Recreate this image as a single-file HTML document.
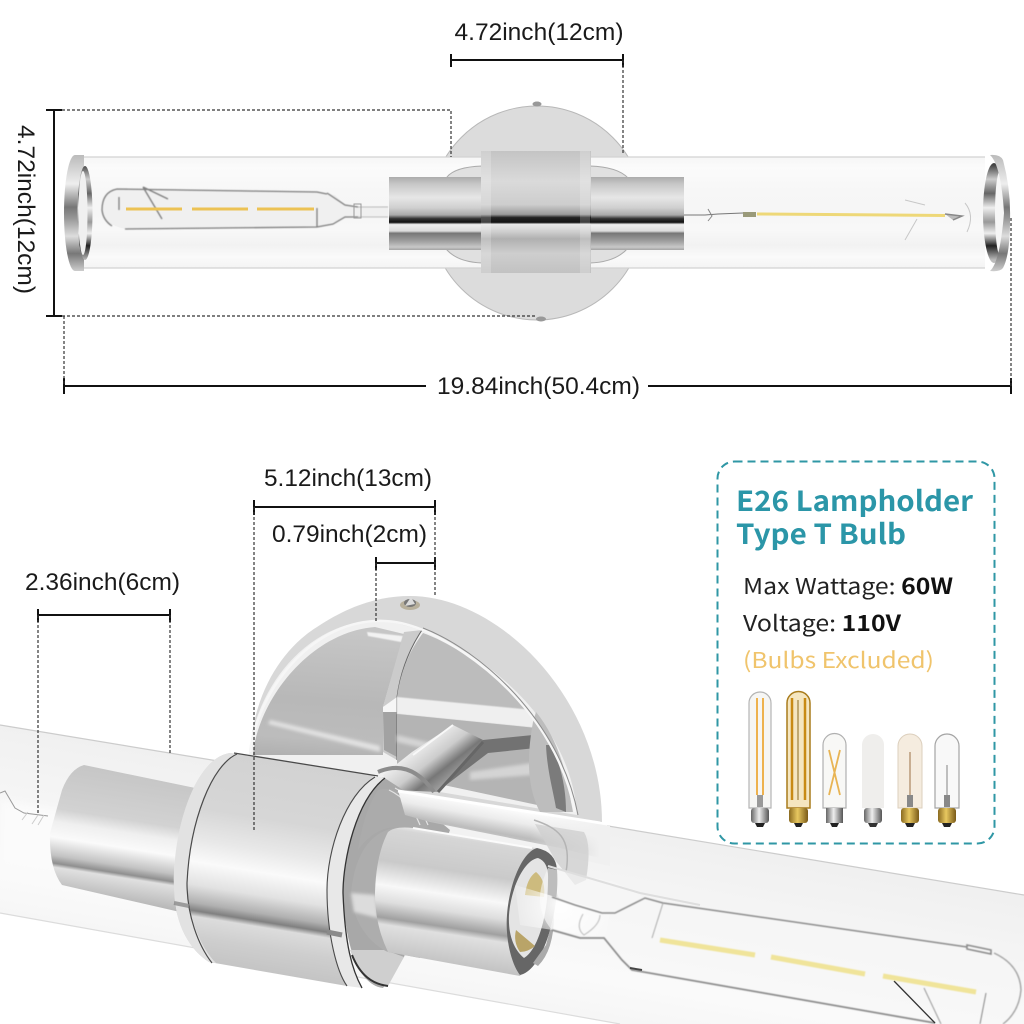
<!DOCTYPE html>
<html><head><meta charset="utf-8"><style>
html,body{margin:0;padding:0;background:#fff;width:1024px;height:1024px;overflow:hidden}
svg{display:block}
.d{font-family:"Liberation Sans",sans-serif;font-size:24px;fill:#1a1a1a}
.c{font-family:"Noto Sans CJK SC","Liberation Sans",sans-serif}
</style></head><body>
<svg width="1024" height="1024" viewBox="0 0 1024 1024" xmlns="http://www.w3.org/2000/svg">
<defs>
<filter id="b1"><feGaussianBlur stdDeviation="0.6"/></filter>
<filter id="b2"><feGaussianBlur stdDeviation="1.5"/></filter>
<filter id="b4"><feGaussianBlur stdDeviation="4"/></filter>
<linearGradient id="fade" gradientUnits="userSpaceOnUse" x1="530" y1="0" x2="600" y2="0"><stop offset="0" stop-color="#f0f0f0" stop-opacity="0"/><stop offset="1" stop-color="#f0f0f0" stop-opacity="1"/></linearGradient>
<linearGradient id="tube" gradientUnits="userSpaceOnUse" x1="0" y1="157" x2="0" y2="268">
<stop offset="0" stop-color="#f6f6f6"/><stop offset=".1" stop-color="#fbfbfb"/><stop offset=".3" stop-color="#f7f7f7"/><stop offset=".5" stop-color="#f6f6f6"/><stop offset=".65" stop-color="#f8f8f8"/><stop offset=".8" stop-color="#f2f2f2"/><stop offset=".9" stop-color="#fafafa"/><stop offset="1" stop-color="#f4f4f4"/>
</linearGradient>
<linearGradient id="col" gradientUnits="userSpaceOnUse" x1="0" y1="151" x2="0" y2="273">
<stop offset="0" stop-color="#c4c4c4"/><stop offset=".25" stop-color="#dadada"/><stop offset=".44" stop-color="#cdcdcd"/><stop offset=".52" stop-color="#9a9a9a"/><stop offset=".545" stop-color="#222"/><stop offset=".585" stop-color="#111"/><stop offset=".6" stop-color="#e6e6e6"/><stop offset=".66" stop-color="#cfcfcf"/><stop offset=".72" stop-color="#b0b0b0"/><stop offset=".84" stop-color="#cecece"/><stop offset="1" stop-color="#c2c2c2"/>
</linearGradient>
<linearGradient id="side" gradientUnits="userSpaceOnUse" x1="0" y1="177" x2="0" y2="250">
<stop offset="0" stop-color="#ababab"/><stop offset=".1" stop-color="#c8c8c8"/><stop offset=".28" stop-color="#e6e6e6"/><stop offset=".42" stop-color="#d0d0d0"/><stop offset=".52" stop-color="#aaa"/><stop offset=".57" stop-color="#333"/><stop offset=".62" stop-color="#111"/><stop offset=".65" stop-color="#f0f0f0"/><stop offset=".74" stop-color="#dcdcdc"/><stop offset=".77" stop-color="#777"/><stop offset=".88" stop-color="#a0a0a0"/><stop offset=".96" stop-color="#c8c8c8"/><stop offset="1" stop-color="#a4a4a4"/>
</linearGradient>
<linearGradient id="ring" gradientUnits="userSpaceOnUse" x1="0" y1="155" x2="0" y2="271">
<stop offset="0" stop-color="#bbb"/><stop offset=".25" stop-color="#eee"/><stop offset=".45" stop-color="#777"/><stop offset=".55" stop-color="#999"/><stop offset=".7" stop-color="#ddd"/><stop offset=".85" stop-color="#777"/><stop offset="1" stop-color="#ccc"/>
</linearGradient>
<linearGradient id="ringin" gradientUnits="userSpaceOnUse" x1="0" y1="165" x2="0" y2="260">
<stop offset="0" stop-color="#444"/><stop offset=".15" stop-color="#ccc"/><stop offset=".3" stop-color="#666"/><stop offset=".45" stop-color="#eee"/><stop offset=".6" stop-color="#999"/><stop offset=".72" stop-color="#eee"/><stop offset=".85" stop-color="#222"/><stop offset="1" stop-color="#bbb"/>
</linearGradient>
<linearGradient id="btube" gradientUnits="userSpaceOnUse" x1="530" y1="800" x2="490" y2="1030">
<stop offset="0" stop-color="#efefef"/><stop offset=".4" stop-color="#f6f6f6"/><stop offset=".7" stop-color="#fafafa"/><stop offset="1" stop-color="#f3f3f3"/>
</linearGradient>
<linearGradient id="bcol" gradientUnits="userSpaceOnUse" x1="298" y1="760" x2="262" y2="982">
<stop offset="0" stop-color="#d2d2d2"/><stop offset=".28" stop-color="#d6d6d6"/><stop offset=".42" stop-color="#e8e8e8"/><stop offset=".52" stop-color="#fafafa"/><stop offset=".62" stop-color="#e2e2e2"/><stop offset=".7" stop-color="#b0b0b0"/><stop offset=".735" stop-color="#808080"/><stop offset=".76" stop-color="#dcdcdc"/><stop offset=".85" stop-color="#cecece"/><stop offset="1" stop-color="#c0c0c0"/>
</linearGradient>
<linearGradient id="bsmall" gradientUnits="userSpaceOnUse" x1="125" y1="772" x2="105" y2="900">
<stop offset="0" stop-color="#c6c6c6"/><stop offset=".36" stop-color="#d2d2d2"/><stop offset=".46" stop-color="#efefef"/><stop offset=".58" stop-color="#fafafa"/><stop offset=".72" stop-color="#c2c2c2"/><stop offset=".78" stop-color="#8f8f8f"/><stop offset=".81" stop-color="#e0e0e0"/><stop offset="1" stop-color="#b6b6b6"/>
</linearGradient>
<linearGradient id="bfront" gradientUnits="userSpaceOnUse" x1="465" y1="832" x2="445" y2="965">
<stop offset="0" stop-color="#f6f6f6"/><stop offset=".06" stop-color="#d6d6d6"/><stop offset=".3" stop-color="#cacaca"/><stop offset=".48" stop-color="#f8f8f8"/><stop offset=".6" stop-color="#dedede"/><stop offset=".72" stop-color="#a0a0a0"/><stop offset=".77" stop-color="#e0e0e0"/><stop offset="1" stop-color="#c2c2c2"/>
</linearGradient>
<linearGradient id="domeL" gradientUnits="userSpaceOnUse" x1="320" y1="630" x2="310" y2="770">
<stop offset="0" stop-color="#c6c6c6"/><stop offset=".5" stop-color="#b8b8b8"/><stop offset=".78" stop-color="#bcbcbc"/><stop offset="1" stop-color="#a8a8a8"/>
</linearGradient>
<linearGradient id="stem" gradientUnits="userSpaceOnUse" x1="425" y1="740" x2="460" y2="785">
<stop offset="0" stop-color="#eee"/><stop offset=".35" stop-color="#ccc"/><stop offset=".6" stop-color="#777"/><stop offset="1" stop-color="#bbb"/>
</linearGradient>
<linearGradient id="rear" gradientUnits="userSpaceOnUse" x1="500" y1="805" x2="490" y2="860">
<stop offset="0" stop-color="#fff"/><stop offset=".25" stop-color="#ececec"/><stop offset=".5" stop-color="#bcbcbc"/><stop offset=".75" stop-color="#d8d8d8"/><stop offset="1" stop-color="#cacaca"/>
</linearGradient>
<linearGradient id="brass" x1="0" y1="0" x2="1" y2="0"><stop offset="0" stop-color="#8a6a20"/><stop offset=".45" stop-color="#e8c860"/><stop offset="1" stop-color="#7a5a18"/></linearGradient>
<linearGradient id="silver" x1="0" y1="0" x2="1" y2="0"><stop offset="0" stop-color="#666"/><stop offset=".45" stop-color="#eee"/><stop offset="1" stop-color="#555"/></linearGradient>
<radialGradient id="neckglow" gradientUnits="userSpaceOnUse" cx="560" cy="905" r="60"><stop offset="0" stop-color="#fff" stop-opacity=".95"/><stop offset="1" stop-color="#fff" stop-opacity="0"/></radialGradient>
</defs>

<!-- TOP LAMP -->
<circle cx="537" cy="213" r="107" fill="#dcdcdc" stroke="#b8b8b8" stroke-width="1"/>
<ellipse cx="537" cy="104" rx="4.5" ry="2.5" fill="#999"/>
<ellipse cx="541" cy="319" rx="5" ry="2.5" fill="#999"/>
<rect x="80" y="157" width="905" height="111" fill="url(#tube)"/>
<path d="M80,157H985M80,268H985" stroke="#d2d2d2" stroke-width="1.2"/>
<path d="M447,177 Q455,167 482,166 V263 Q458,262 447,250Z" stroke="#aaa" stroke-width="1" fill="#e0e0e0"/>
<path d="M590,166 Q618,167 628,178 V248 Q616,262 590,263Z" stroke="#aaa" stroke-width="1" fill="#e0e0e0"/>
<rect x="389" y="177" width="295" height="73" fill="url(#side)"/>
<rect x="481" y="151" width="110" height="122" fill="url(#col)"/>
<rect x="481" y="151" width="10" height="122" fill="#fff" opacity=".2"/>
<rect x="580" y="151" width="10" height="122" fill="#fff" opacity=".2"/>
<!-- left ring -->
<ellipse cx="75" cy="213" rx="11" ry="58" fill="url(#ring)"/>
<rect x="75" y="155" width="9" height="116" fill="url(#ring)"/>
<ellipse cx="85" cy="213" rx="7.500" ry="47" fill="url(#ringin)"/>
<ellipse cx="83" cy="213" rx="4.500" ry="42" fill="#f0f0f0"/>
<!-- right ring -->
<ellipse cx="994" cy="213" rx="11" ry="50" fill="url(#ringin)"/>
<ellipse cx="1000" cy="213" rx="5" ry="42" fill="#f6f6f6"/>
<path d="M990,155 Q1000,154 1003,160 Q1011,190 1010,220 Q1010,255 1003,268 Q1000,272 990,271 Q1000,262 1004,213 Q1001,165 990,155Z" fill="url(#ring)"/>
<!-- left bulb -->
<path d="M335,195 L317,192 L117,189 Q102,192 102,210 Q103,224 125,229 L317,227 L340,220 L350,217 L388,217 V206 L358,207 L345,205 Z" fill="#f0f0f0"/>
<g fill="none" stroke="#7e7e7e" stroke-width="1.3" filter="url(#b1)">
<path d="M327,194 L317,192 L117,189 Q102,192 102,210 Q103,220 112,226"/>
<path d="M125,229 L317,227 L333,224 L345,217 L358,217"/>
<path d="M327,193 L345,205 L358,207"/>
<path d="M317,208 V227 M119,197 V210 M143,187 L162,219 M143,187 L168,199"/>
<path d="M358,207 H388 M358,217 H388" stroke-width=".7" stroke="#aaa"/>
</g>
<path d="M354,204 h7 v14 h-7z" fill="none" stroke="#999" stroke-width="1"/>
<path d="M126,209H182M192,209H248M257,209H314" stroke="#ecc254" stroke-width="3"/>
<!-- right bulb -->
<path d="M684,215H705L718,214L743,213" stroke="#777" stroke-width="1" fill="none"/>
<path d="M708,209L712,216L708,221" stroke="#888" stroke-width="1" fill="none"/>
<rect x="743" y="212" width="13" height="5" fill="#9a9a7a"/>
<path d="M757,214L945,215.500" stroke="#eed878" stroke-width="3"/>
<path d="M945,214L962,216L953,220" stroke="#888" stroke-width="1.500" fill="#bbb"/>
<path d="M965,203 Q975,215 967,232 M905,200 L925,205 M905,240 L917,219" stroke="#c8c8c8" stroke-width="1" fill="none"/>

<!-- DIMENSIONS TOP -->
<g stroke="#111" stroke-width="2" fill="none">
<path d="M451,60H623M451,54V67M623,54V67"/>
<path d="M54,110V316M46,110H62M46,316H62"/>
<path d="M64,386H426M648,386H1011M64,378V394M1011,378V394"/>
<path d="M38,615H170M38,609V622M170,609V622"/>
<path d="M254,507H435M254,500V515M435,500V515"/>
<path d="M376,563H435M376,557V570M435,557V570"/>
</g>
<g stroke="#333" stroke-width="1.2" stroke-dasharray="3 2" fill="none">
<path d="M62,110H451V157M623,60V155M62,316H535M64,316V386M1011,218V386"/>
</g>
<text class="d" x="454.500" y="40" textLength="169" lengthAdjust="spacingAndGlyphs">4.72inch(12cm)</text>
<text class="d" x="437" y="394" textLength="203" lengthAdjust="spacingAndGlyphs">19.84inch(50.4cm)</text>
<text class="d" transform="translate(18,125) rotate(90)" textLength="169" lengthAdjust="spacingAndGlyphs">4.72inch(12cm)</text>

<!-- BOTTOM LAMP plate -->
<path d="M317,627 C350,605 380,596 410,596 C500,596 602,700 602,822 L250,770 C248,700 280,650 317,627Z" fill="#d8d8d8"/>
<path d="M249,760 C250,700 300,622 375,621 C440,621 570,700 577,815 Z" fill="#f0f0f0"/>
<!-- dome left -->
<path d="M253,755 C258,700 310,632 375,627 L404,634 L383,707 L383,755Z" fill="url(#domeL)"/>
<path d="M367,632 L403,636 L401,642 L368,636Z" fill="#f2f2f2" filter="url(#b1)"/>
<path d="M268,724 L380,752 L380,746 L270,720Z" fill="#e2e2e2" filter="url(#b2)"/>
<!-- seam band -->
<path d="M404,632 L422,630 Q402,660 397,697 V760 L383,752 V707Z" fill="#cbcbcb"/>
<path d="M383,707 L397,697 V713 L383,712Z" fill="#f6f6f6"/>
<path d="M383,712 H397 V757 L384,750Z" fill="#a2a2a2"/>
<path d="M422,630 Q402,660 397,697 V760" stroke="#666" fill="none" stroke-width="1"/>
<!-- dome right -->
<path d="M423,633 C470,650 555,710 573,812 L397,775 V697 Q402,660 423,633Z" fill="#bcbcbc"/>
<path d="M397,697 L533,710 L536,728 L397,714Z" fill="#efefef" filter="url(#b1)"/>
<path d="M397,714 L536,728 C545,745 560,780 570,812 L397,775Z" fill="#b4b4b4"/>
<path d="M397,735 L440,745 L440,752 L397,742Z" fill="#d4d4d4" filter="url(#b2)"/>
<path d="M483,740 L533,735 L536,748 L488,753 L437,792 L428,770Z" fill="#727272"/>
<path d="M470,772 L532,763 V775 L470,780Z" fill="#d4d4d4" filter="url(#b2)"/>
<path d="M533,722 C526,760 528,790 540,812 L572,812 C568,770 555,735 536,712Z" fill="#bdbdbd"/>
<path d="M552,745 C562,770 566,790 566,812 L556,808 C553,790 547,770 546,745Z" fill="#666" opacity=".75"/>
<path d="M250,752 C258,690 310,624 375,621 C395,620 410,625 423,630 C470,650 555,710 575,812" stroke="#f6f6f6" stroke-width="2.5" fill="none"/>
<path d="M423,628 C480,650 560,720 578,815" stroke="#8c8c8c" stroke-width="1" fill="none"/>
<!-- screw -->
<ellipse cx="410" cy="605" rx="10" ry="5" fill="#b8b09c"/><ellipse cx="410" cy="603" rx="6" ry="4" fill="#777"/><path d="M405,606L411,597L415,604" fill="#dcdcdc"/>
<!-- stem -->
<path d="M453,725 L483,740 L437,792 L395,790 L383,775 L412,752Z" fill="url(#stem)"/>
<path d="M453,725 L413,755" stroke="#f8f8f8" stroke-width="2"/>
<path d="M483,742 L438,792" stroke="#666" stroke-width="3"/>
<path d="M378,772 Q410,758 434,792" stroke="#8c8c8c" stroke-width="4" fill="none"/>

<!-- glass tube -->
<path d="M0,725 L1024,895 V1024 H620 L0,913Z" fill="url(#btube)"/>
<path d="M0,725 L230,763 M385,789 L1024,895" stroke="#cccccc" stroke-width="1.2"/>
<path d="M0,913 L620,1024" stroke="#dcdcdc" stroke-width="1.2"/>
<path d="M0,800 L150,826 L130,885 L0,865Z" fill="#fbfbfb" filter="url(#b4)"/>

<!-- left small cylinder -->
<path d="M84,765 Q70,769 62,790 L50,833 Q49,868 62,885 L180,912 L205,790Z" fill="url(#bsmall)"/>

<!-- recess inside opening (drawn before collar) -->
<path d="M383,777 C355,800 342,860 343,893 C345,945 358,985 383,988 L404,957 L450,830 L400,788Z" fill="#a8a8a8"/>
<path d="M378,790 C395,785 410,795 428,828 L395,828 C380,826 365,840 358,850 C362,825 368,805 378,790Z" fill="#ababab"/>
<path d="M389,790 Q410,800 420,825 M395,788 Q418,800 428,825" stroke="#e4e4e4" stroke-width="1.200" fill="none"/>
<path d="M350,950 C358,970 372,985 388,986 L404,957 L385,950Z" fill="#cfcfcf"/>
<path d="M352,955 C360,975 372,984 388,986" stroke="#333" stroke-width="2" fill="none"/>
<!-- rear tube -->
<path d="M398,790 L607,824 V860 L560,848 L430,822 L405,815 Z" fill="url(#rear)"/>
<path d="M398,791 L600,823" stroke="#fff" stroke-width="3"/>
<path d="M525,812 L610,826 V866 L525,848Z" fill="url(#fade)"/>
<!-- plate ghost behind glass on right -->
<path d="M535,824 L584,832 Q592,845 586,880 L575,885 L555,860 Z" fill="#cfcfcf" opacity=".8"/>
<path d="M534,820 C558,828 572,838 566,872" stroke="#b4b4b4" stroke-width="1.500" fill="none"/>

<!-- collar body -->
<path d="M230,753 C195,758 172,830 174,890 C175,925 190,950 209,962 L347,986 C336,970 327,935 327,890 C327,850 345,795 375,776Z" fill="url(#bcol)"/>
<path d="M230,753 C195,758 172,830 174,890 C175,925 190,950 209,962 L216,963 C198,945 187,910 187,883 C190,820 210,765 237,754Z" fill="#e2e2e2"/>
<path d="M237,754 C212,765 190,820 187,883 C187,915 198,945 212,963" stroke="#4a4a4a" stroke-width="1.200" fill="none"/>
<path d="M174,903 L189,906" stroke="#8a8a8a" stroke-width="4" opacity=".8"/>
<path d="M234,753 L378,776" stroke="#4a4a4a" stroke-width="1.300"/>
<!-- right lip -->
<path d="M375,776 L385,778 C356,800 343,860 343,893 C345,945 352,970 362,988 L347,986 C336,970 327,935 327,890 C327,850 345,795 375,776Z" fill="#e8e8e8"/>
<path d="M375,777 C345,795 327,850 327,890 C327,935 337,972 347,986" stroke="#4a4a4a" stroke-width="1.100" fill="none"/>
<path d="M385,778 C356,800 343,860 343,893 C345,945 352,970 362,988" stroke="#333" stroke-width="1.300" fill="none"/>
<path d="M327,932 L342,935" stroke="#8a8a8a" stroke-width="5"/>
<!-- stepped shoulder of front cylinder -->
<path d="M351,893 C355,850 375,822 413,828 L420,958 L388,952 C372,945 353,925 351,893Z" fill="#adadad"/>
<path d="M351,893 L376,895 L378,918 L354,912Z" fill="#dcdcdc" filter="url(#b2)"/>
<!-- front cylinder -->
<path d="M388,832 Q395,826 413,828 L537,848 L560,900 L520,976 L388,952 Q375,925 375,893 Q376,855 388,832Z" fill="url(#bfront)"/>
<path d="M413,828 L532,848" stroke="#fbfbfb" stroke-width="2"/>
<!-- socket end -->
<path d="M537,848 Q556,852 557,870 C560,905 545,970 520,975 C512,965 505,940 507,915 C509,885 522,852 537,848Z" fill="#666"/>
<path d="M538,858 Q549,862 548,880 C548,915 538,950 524,958 C514,950 508,935 509,915 C511,888 524,860 538,858Z" fill="#e4e4e4"/>
<path d="M536,872 Q546,880 544,897 L525,895 Q527,878 536,872Z" fill="#cdbb7e"/>
<path d="M516,930 L535,946 Q528,952 520,952 Q513,942 516,930Z" fill="#b9a468"/>
<path d="M533,963 L546,945 L554,915 Q554,950 538,966Z" fill="#aaa"/>
<!-- glass bulb -->
<path d="M548,868 L615,882 L645,898 L663,903 L991,950 Q1026,975 1021,990 Q1015,1015 1000,1024 H935 L630,970 L622,960 L604,938 L552,930 Q530,905 548,868Z" fill="#f6f6f6" opacity=".6"/>
<path d="M515,885 L610,913 L605,938 L520,925Z" fill="url(#neckglow)"/>
<path d="M548,866 L640,893 L700,905" stroke="#dedede" stroke-width="2" fill="none"/>
<g fill="none" stroke="#8c8c8c" stroke-width="1.600" filter="url(#b1)">
<path d="M552,897 L575,905 L602,913 L615,913 L645,898 L663,903 L967,947" stroke-width="1.500"/>
<path d="M967,945 L991,950 L991,954 L967,949Z"/>
<path d="M994,953 Q1020,965 1021,990 Q1019,1012 1003,1024" stroke-width="1.400" stroke="#a5a5a5"/>
<path d="M552,930 L580,938 L604,938 L622,960 L632,970 L935,1023" stroke-width="1.700"/>
<path d="M663,903 L652,938" stroke-width="1" stroke="#aaa"/>
<path d="M583,914 Q575,928 584,935 Q600,925 600,915" stroke-width="1" stroke="#bbb"/>
<path d="M924,988 L941,1024" stroke="#999" stroke-width="1"/>
<path d="M986,993 L980,1024" stroke="#888" stroke-width="1"/>
</g>
<path d="M630,968L642,970" stroke="#444" stroke-width="2"/>
<path d="M894,981 L935,1023" stroke="#333" stroke-width="1.300"/>
<path d="M660,940 L755,955 M771,957 L865,974 M883,976 L976,992" stroke="#f0e49a" stroke-width="5" filter="url(#b1)"/>
<!-- left bulb remnant -->
<path d="M0,793 L5,791 L15,808 L24,813 L48,816" stroke="#999" stroke-width="1" fill="none"/>
<path d="M22,820 L28,812 M32,824 L38,815 M38,825 L44,815" stroke="#ccc" stroke-width="1"/>

<!-- DIM BOTTOM dashed -->
<g stroke="#333" stroke-width="1.200" stroke-dasharray="3 2" fill="none">
<path d="M38,615V815M170,615V753M254,507V830M435,507V597M376,563V623"/>
</g>
<text class="d" x="264" y="486" textLength="168" lengthAdjust="spacingAndGlyphs">5.12inch(13cm)</text>
<text class="d" x="272" y="542" textLength="155" lengthAdjust="spacingAndGlyphs">0.79inch(2cm)</text>
<text class="d" x="25" y="590" textLength="155" lengthAdjust="spacingAndGlyphs">2.36inch(6cm)</text>

<!-- PANEL -->
<rect x="717.500" y="461.500" width="277" height="382" rx="17" fill="#fff" stroke="#2f97a5" stroke-width="2" stroke-dasharray="8 5"/>
<text class="c" x="736" y="511" font-size="28" font-weight="700" fill="#2b96a8" textLength="237" lengthAdjust="spacingAndGlyphs">E26 Lampholder</text>
<text class="c" x="736" y="544" font-size="28" font-weight="700" fill="#2b96a8" textLength="170" lengthAdjust="spacingAndGlyphs">Type T Bulb</text>
<text class="c" x="743" y="594" font-size="22" fill="#222" textLength="210" lengthAdjust="spacingAndGlyphs">Max Wattage: <tspan font-weight="700" fill="#111">60W</tspan></text>
<text class="c" x="743" y="631" font-size="22" fill="#222" textLength="158" lengthAdjust="spacingAndGlyphs">Voltage: <tspan font-weight="700" fill="#111">110V</tspan></text>
<text class="c" x="743" y="668" font-size="22" fill="#f0c46c" textLength="191" lengthAdjust="spacingAndGlyphs">(Bulbs Excluded)</text>

<!-- small bulbs -->
<g>
<path d="M749,703 a11,11 0 0 1 22,0 V808 h-22Z" fill="#f6f6f4" stroke="#b4b4b4" stroke-width="1.200"/>
<path d="M757,698V795M763,698V795" stroke="#eeb24e" stroke-width="2"/>
<rect x="757" y="795" width="6" height="12" fill="#999"/>
<rect x="751" y="808" width="18" height="15" rx="3" fill="url(#silver)"/><path d="M755,823h10l-2,4h-6z" fill="#222"/>

<path d="M787,703 a11.500,11.500 0 0 1 23,0 V808 h-23Z" fill="#f5e6c0" stroke="#a97c1c" stroke-width="1.500"/>
<path d="M792,698V800M805,698V800" stroke="#c88a14" stroke-width="2.500"/><path d="M798,700V800" stroke="#8a6a20" stroke-width="1"/>
<rect x="789" y="808" width="19" height="15" rx="3" fill="url(#brass)"/><path d="M794,823h9l-2,4h-5z" fill="#222"/>

<path d="M823,745 a11.500,11.500 0 0 1 23,0 V808 h-23Z" fill="#f8f8f6" stroke="#b0b0b0" stroke-width="1.200"/>
<path d="M829,750L840,795M840,750L829,795" stroke="#e8b454" stroke-width="1.800"/>
<rect x="826" y="808" width="17" height="15" fill="url(#silver)"/><path d="M830,823h9l-2,4h-5z" fill="#222"/>

<path d="M862,745 a11,11 0 0 1 22,0 V808 h-22Z" fill="#efeeec"/>
<rect x="864" y="808" width="18" height="15" rx="3" fill="url(#silver)"/><path d="M868,823h10l-2,4h-6z" fill="#333"/>

<path d="M898,746 a12,12 0 0 1 24,0 V808 h-24Z" fill="#f5ecdf" stroke="#dccfbd" stroke-width="1"/>
<path d="M910,752V795" stroke="#b89a78" stroke-width="1.500"/><rect x="907" y="795" width="6" height="12" fill="#888"/>
<rect x="901" y="808" width="18" height="15" rx="3" fill="url(#brass)"/><path d="M905,823h10l-2,4h-6z" fill="#222"/>

<path d="M935,746 a12,12 0 0 1 24,0 V808 h-24Z" fill="#f8f8f8" stroke="#a4a4a4" stroke-width="1.200"/>
<path d="M947,765V795" stroke="#aaa" stroke-width="1.500"/><rect x="944" y="795" width="6" height="12" fill="#888"/>
<rect x="938" y="808" width="18" height="15" rx="3" fill="url(#brass)"/><path d="M942,823h10l-2,4h-6z" fill="#222"/>
</g>
</svg>
</body></html>
